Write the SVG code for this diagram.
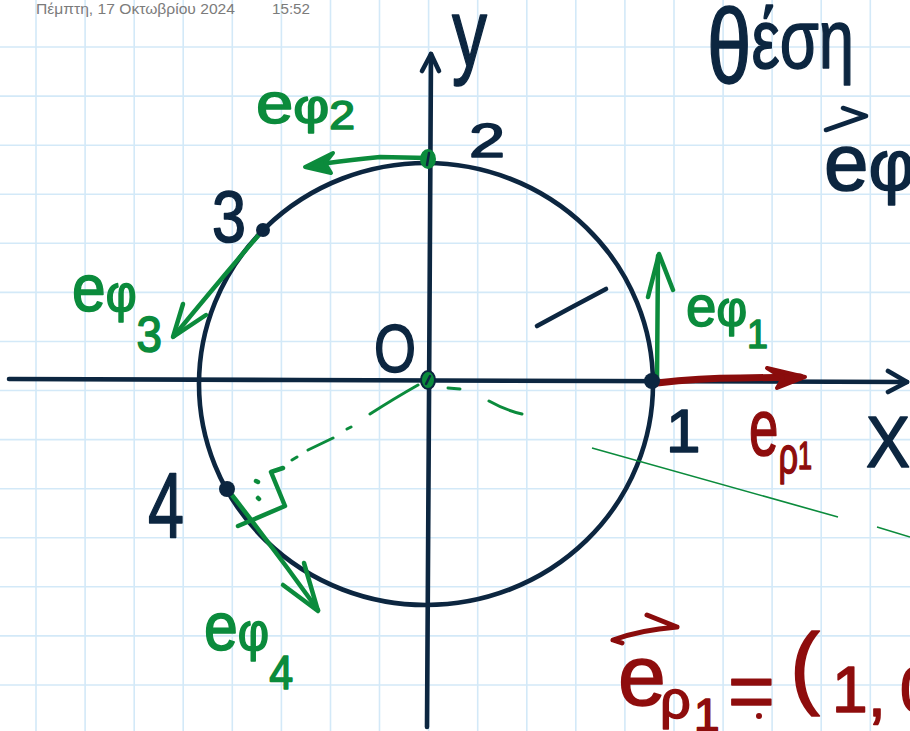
<svg xmlns="http://www.w3.org/2000/svg" width="910" height="731" viewBox="0 0 910 731">
<defs>
<style>
.grid{stroke:#d3e9f8;stroke-width:1.6;fill:none}
.ink{fill:none;stroke:#0c2640;stroke-width:4.6;stroke-linecap:round;stroke-linejoin:round}
.gr{fill:none;stroke:#0b8b3c;stroke-width:4.5;stroke-linecap:round;stroke-linejoin:round}
.rd{fill:none;stroke:#8a0c0c;stroke-width:7;stroke-linecap:round;stroke-linejoin:round}
.hw{font-family:"Liberation Sans","DejaVu Sans",Arial,sans-serif;stroke-linejoin:round}
.td{fill:#0c2640;stroke:#0c2640;stroke-width:1.6}
.tg{fill:#0b8b3c;stroke:#0b8b3c;stroke-width:1.6}
.tr{fill:#8e0d0d;stroke:#8e0d0d;stroke-width:1.6}
.hdr{font-family:"Liberation Sans","DejaVu Sans",sans-serif;fill:#7b7b7b}
</style>
</defs>
<rect x="0" y="0" width="910" height="731" fill="#ffffff"/>
<g id="grid" class="grid">
<path d="M36,0V731 M85.1,0V731 M134.2,0V731 M183.2,0V731 M232.3,0V731 M281.4,0V731 M330.5,0V731 M379.5,0V731 M428.6,0V731 M477.7,0V731 M526.8,0V731 M575.8,0V731 M624.9,0V731 M674,0V731 M723.1,0V731 M772.1,0V731 M821.2,0V731 M870.3,0V731"/>
<path d="M0,47H910 M0,96.1H910 M0,145.2H910 M0,194.2H910 M0,243.3H910 M0,292.4H910 M0,341.5H910 M0,390.5H910 M0,439.6H910 M0,488.7H910 M0,537.8H910 M0,586.8H910 M0,635.9H910 M0,685H910"/>
</g>
<g id="header">
<text class="hdr" x="36" y="14" font-size="14.5" textLength="199" lengthAdjust="spacingAndGlyphs">Πέμπτη, 17 Οκτωβρίου 2024</text>
<text class="hdr" x="272" y="14" font-size="14.5" textLength="38" lengthAdjust="spacingAndGlyphs">15:52</text>
</g>
<g id="axes">
<path class="ink" d="M9,379 L300,380 L600,381 L907,382"/>
<path class="ink" d="M888,371 L907,382 L888,392"/>
<path class="ink" d="M427,727 L429,400 L431,54"/>
<path class="ink" d="M422,71 L431,54 L439,71"/>
<text class="hw td" x="452" y="66" font-size="96" textLength="35" lengthAdjust="spacingAndGlyphs">y</text>
<text class="hw td" x="866" y="467" font-size="72" textLength="44" lengthAdjust="spacingAndGlyphs" stroke-width="2">X</text>
</g>
<ellipse id="circle" class="ink" cx="426" cy="384" rx="227" ry="221"/>
<g id="marks">
<path class="ink" d="M537,326 Q570,308 606,289" stroke-width="3"/>
<path fill="none" stroke="#0b8b3c" stroke-width="1.6" d="M592,448 L838,517 M877,527 L910,537"/>
<path fill="none" stroke="#0b8b3c" stroke-width="3" stroke-linecap="round" d="M418,385 Q395,398 370,414 M347,429 L351,427 M308,450 L333,438 M292,460 L297,457 M448,388 L460,389 M489,401 Q505,410 522,414"/>
</g>
<g id="connectors">
<g id="v-erho1">
<path class="rd" d="M657,383 Q700,378 740,378 L800,377"/>
<path fill="#8a0c0c" stroke="#8a0c0c" stroke-width="4" stroke-linejoin="round" d="M767,368 L805,377 L777,388 L783,378 Z"/>
</g>
<g id="v-ephi1">
<path class="gr" stroke-width="3.2" d="M657,380 L658,256"/>
<path class="gr" stroke-width="3.6" d="M648,297 L659,254 L673,290"/>
</g>
<g id="v-ephi2">
<path class="gr" stroke-width="5" d="M428,158 L380,157 Q350,160 328,163"/>
<path fill="#0b8b3c" stroke="#0b8b3c" stroke-width="4" stroke-linejoin="round" d="M305,167 L333,153 L325,163 L331,173 Z"/>
</g>
<g id="v-ephi3">
<path class="gr" stroke-width="5" d="M263,230 Q220,280 174,336"/>
<path class="gr" stroke-width="5" d="M183,304 L173,337 L206,315"/>
</g>
<g id="v-ephi4">
<path class="gr" stroke-width="6" d="M228,490 Q275,550 318,610"/>
<path class="gr" stroke-width="6" d="M283,585 L318,611 L304,563"/>
<path class="gr" stroke-width="4" d="M238,526 L285,506 L271,472 L283,468"/>
<path class="gr" stroke-width="4" d="M256,481 L258,482 M258,498 L259,499"/>
</g>
</g>
<g id="p-O">
<ellipse cx="428" cy="380" rx="7" ry="9" fill="#0b8b3c" stroke="#0c2640" stroke-width="2"/>
<path d="M426,384 L430,376" stroke="#0c2640" stroke-width="2.5" stroke-linecap="round"/>
<text class="hw td" x="374" y="372" font-size="68" textLength="42" lengthAdjust="spacingAndGlyphs" stroke-width="2">O</text>
</g>
<g id="p-1">
<circle cx="652" cy="381" r="8" fill="#0c2640"/>
<text class="hw td" x="666" y="452" font-size="62" stroke-width="2">1</text>
</g>
<g id="p-2">
<ellipse cx="428" cy="159" rx="8" ry="10" fill="#0b8b3c"/>
<path d="M427,165 L429,153" stroke="#0c2640" stroke-width="2.5" stroke-linecap="round"/>
<text class="hw td" x="469" y="157" font-size="48" textLength="36" lengthAdjust="spacingAndGlyphs" stroke-width="2">2</text>
</g>
<g id="p-3">
<circle cx="263" cy="230" r="7" fill="#0c2640"/>
<text class="hw td" x="212" y="242" font-size="72" textLength="34" lengthAdjust="spacingAndGlyphs">3</text>
</g>
<g id="p-4">
<circle cx="227" cy="489" r="8" fill="#0c2640"/>
<text class="hw td" x="148" y="537" font-size="92" textLength="36" lengthAdjust="spacingAndGlyphs">4</text>
</g>
<g id="labels">
<text class="hw tg" x="256" y="123" font-size="58" textLength="99" lengthAdjust="spacingAndGlyphs">e<tspan font-size="48">φ</tspan><tspan font-size="40" dy="6">2</tspan></text>
<text class="hw tg" x="72" y="311" font-size="66" textLength="90" lengthAdjust="spacingAndGlyphs">e<tspan font-size="52">φ</tspan><tspan font-size="50" dy="41">3</tspan></text>
<text class="hw tg" x="686" y="326" font-size="58" textLength="82" lengthAdjust="spacingAndGlyphs">e<tspan font-size="50">φ</tspan><tspan font-size="40" dy="22">1</tspan></text>
<text class="hw tr" x="749" y="455" font-size="80" textLength="63" lengthAdjust="spacingAndGlyphs">e<tspan font-size="52" dy="18">ρ</tspan><tspan font-size="38" dy="-4">1</tspan></text>
<text class="hw tg" x="204" y="650" font-size="68" textLength="89" lengthAdjust="spacingAndGlyphs">e<tspan font-size="54">φ</tspan><tspan font-size="48" dy="39">4</tspan></text>
</g>
<g id="notes">
<text class="hw td" x="707" y="83" textLength="147" lengthAdjust="spacingAndGlyphs" stroke-width="2.5"><tspan font-size="106">θ</tspan><tspan font-size="84" dy="-15">έση</tspan></text>
<path class="ink" stroke-width="5" d="M826,130 L866,116 M843,108 L866,116"/>
<text class="hw td" x="824" y="190" font-size="80" stroke-width="2.5">e<tspan font-size="72">φ</tspan></text>
<path fill="none" stroke="#8a0c0c" stroke-width="5" stroke-linecap="round" stroke-linejoin="round" d="M622,643 L613,640 Q640,630 677,627 M647,615 L677,627"/>
<text class="hw tr" stroke-width="2.5"><tspan x="618" y="705" font-size="86">e</tspan><tspan x="660" y="718" font-size="54">ρ</tspan><tspan x="694" y="731" font-size="46">1</tspan><tspan x="728" y="718" font-size="80">=</tspan><tspan x="790" y="697" font-size="90">(</tspan><tspan x="832" y="712" font-size="64">1</tspan><tspan x="868" y="716" font-size="64">,</tspan><tspan x="900" y="712" font-size="64">0</tspan></text>
<circle cx="759" cy="716" r="3" fill="#8e0d0d"/>
</g>
</svg>
